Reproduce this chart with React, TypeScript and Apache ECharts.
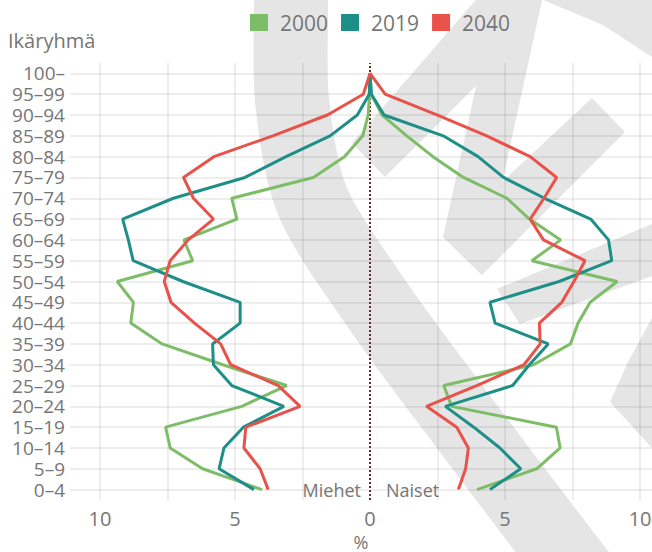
import React, { useEffect, useRef } from 'react';
import * as echarts from 'echarts';

const ageGroups = ['0–4', '5–9', '10–14', '15–19', '20–24', '25–29', '30–34', '35–39', '40–44', '45–49', '50–54', '55–59', '60–64', '65–69', '70–74', '75–79', '80–84', '85–89', '90–94', '95–99', '100–'];
const years = ['2000', '2019', '2040'];

const men2000 = [4.0, 6.2, 7.4, 7.57, 4.75, 3.09, 5.45, 7.7, 8.86, 8.76, 9.36, 6.57, 6.89, 4.93, 5.12, 2.1, 0.95, 0.27, 0.07, 0.02, 0];
const women2000 = [3.96, 6.17, 7.04, 6.9, 3.02, 2.73, 6.05, 7.42, 7.7, 8.15, 9.15, 5.99, 7.06, 5.9, 5.07, 3.46, 2.33, 1.36, 0.45, 0.04, 0];
const men2019 = [4.3, 5.59, 5.41, 4.69, 3.19, 5.12, 5.8, 5.83, 4.81, 4.81, 6.93, 8.77, 8.95, 9.16, 7.28, 4.63, 3.11, 1.48, 0.47, 0.03, 0];
const women2019 = [4.44, 5.58, 4.81, 3.84, 2.79, 5.28, 5.9, 6.6, 4.63, 4.44, 7.0, 8.95, 8.83, 8.17, 6.46, 4.94, 4.0, 2.71, 0.52, 0.05, 0];
const men2040 = [3.77, 4.07, 4.67, 4.6, 2.59, 3.4, 5.16, 5.53, 6.5, 7.37, 7.62, 7.4, 6.73, 5.8, 6.54, 6.91, 5.78, 3.6, 1.58, 0.25, 0];
const women2040 = [3.27, 3.54, 3.64, 3.21, 2.09, 3.95, 5.7, 6.3, 6.27, 7.1, 7.55, 7.96, 6.42, 5.93, 6.44, 6.91, 5.93, 4.32, 2.5, 0.56, 0];

const xTickValues = [-10, -5, 0, 5, 10];
const xGridValues = [-10, -7.5, -5, -2.5, 2.5, 5, 7.5, 10];
const colors = ['#7dbd67', '#1e8f88', '#e9524a'];

const FONT = "'Open Sans', sans-serif";
const TEXT = '#767676';
const WM = '#e5e5e5';

function pyramid(men: number[], women: number[]) {
  const left = men.map((v, i) => [-v, ageGroups[i]]);
  const right = women.map((v, i) => [v, ageGroups[i]]).reverse().slice(1);
  return left.concat(right);
}

export default function App() {
  const ref = useRef<HTMLDivElement>(null);
  useEffect(() => {
    document.body.style.margin = '0';
    const chart = echarts.init(ref.current!, null, { renderer: 'svg' });
    const sets = [
      [men2000, women2000],
      [men2019, women2019],
      [men2040, women2040],
    ];
    const lineSeries = years.map((y, i) => ({
      type: 'line',
      name: y,
      data: pyramid(sets[i][0], sets[i][1]),
      symbol: 'none',
      showSymbol: false,
      clip: false,
      z: 3,
      lineStyle: { width: 3, color: colors[i] },
      itemStyle: { color: colors[i] },
    }));
    const wmPoly = (pts: number[][]) => ({
      type: 'polygon',
      z: -10,
      silent: true,
      shape: { points: pts },
      style: { fill: WM },
    });
    chart.setOption({
      animation: false,
      backgroundColor: '#ffffff',
      textStyle: { fontFamily: FONT },
      legend: {
        data: years,
        left: 245,
        top: 7,
        itemWidth: 18,
        itemHeight: 17,
        itemGap: 13,
        icon: 'rect',
        textStyle: { fontSize: 21, color: TEXT, fontFamily: FONT, padding: [0, 0, 0, 7] },
      },
      grid: { left: 70, right: 0, top: 63, bottom: 52, containLabel: false, outerBoundsMode: 'none' },
      xAxis: {
        type: 'value',
        min: -11.11,
        max: 10.44,
        axisLine: { show: false },
        axisTick: { show: false },
        splitLine: { show: false },
        axisLabel: {
          customValues: xTickValues,
          formatter: (v: number) => String(Math.abs(v)),
          fontSize: 20,
          color: TEXT,
          fontFamily: FONT,
          margin: 8,
        },
        name: '%',
        nameLocation: 'middle',
        nameGap: 29,
        nameTextStyle: { fontSize: 18, lineHeight: 18, color: TEXT, fontFamily: FONT },
      },
      yAxis: {
        type: 'category',
        data: ageGroups,
        boundaryGap: true,
        axisLine: { show: false },
        axisTick: { show: false },
        axisLabel: { interval: 0, fontSize: 19, lineHeight: 18, color: TEXT, fontFamily: FONT, margin: 5 },
        splitLine: {
          show: true,
          interval: 0,
          alignWithLabel: true,
          lineStyle: { color: 'rgba(0,0,0,0.065)', width: 2 },
        },
      },
      graphic: [
        {
          type: 'polyline',
          z: -10,
          silent: true,
          shape: {
            points: [[289, -40], [291, 0], [292, 100], [312, 200], [374, 300], [447, 400], [562, 552], [600, 600]],
            smooth: 0.3,
          },
          style: { stroke: WM, lineWidth: 74, fill: null },
        },
        wmPoly([[352, 143], [385, 177], [480, 82], [500, -5], [480, -5]]),
        wmPoly([[443, 237], [482, 275], [542, 0], [495, 0]]),
        wmPoly([[443, 237], [482, 275], [625, 132], [592, 98]]),
        wmPoly([[543, 0], [603, 25], [652, 57], [652, 0]]),
        wmPoly([[497, 289], [520, 324], [652, 276], [652, 224]]),
        wmPoly([[652, 318], [628, 362], [610, 402], [652, 448]]),
        {
          type: 'text',
          x: 8,
          y: 40,
          style: { text: 'Ikäryhmä', fontSize: 20, fill: TEXT, fontFamily: FONT, align: 'left', verticalAlign: 'middle' },
        },
        {
          type: 'text',
          x: 361,
          y: 490,
          z: 5,
          style: { text: 'Miehet', fontSize: 18, fill: TEXT, fontFamily: FONT, align: 'right', verticalAlign: 'middle' },
        },
        {
          type: 'text',
          x: 386,
          y: 490,
          z: 5,
          style: { text: 'Naiset', fontSize: 18, fill: TEXT, fontFamily: FONT, align: 'left', verticalAlign: 'middle' },
        },
      ],
      series: [
        {
          type: 'line',
          name: 'grid',
          data: [],
          silent: true,
          z: 1,
          markLine: {
            z: 1,
            silent: true,
            symbol: ['none', 'none'],
            label: { show: false },
            emphasis: { disabled: true },
            lineStyle: { color: 'rgba(0,0,0,0.065)', width: 2, type: 'solid' },
            data: [
              ...xGridValues.map((v) => ({ xAxis: v })),
              { xAxis: 0, lineStyle: { type: 'dotted', color: '#6b2c2c', width: 2 } },
            ],
          },
        },
        ...lineSeries,
      ],
    });
    return () => chart.dispose();
  }, []);
  return <div ref={ref} style={{ width: 652, height: 552 }} />;
}
